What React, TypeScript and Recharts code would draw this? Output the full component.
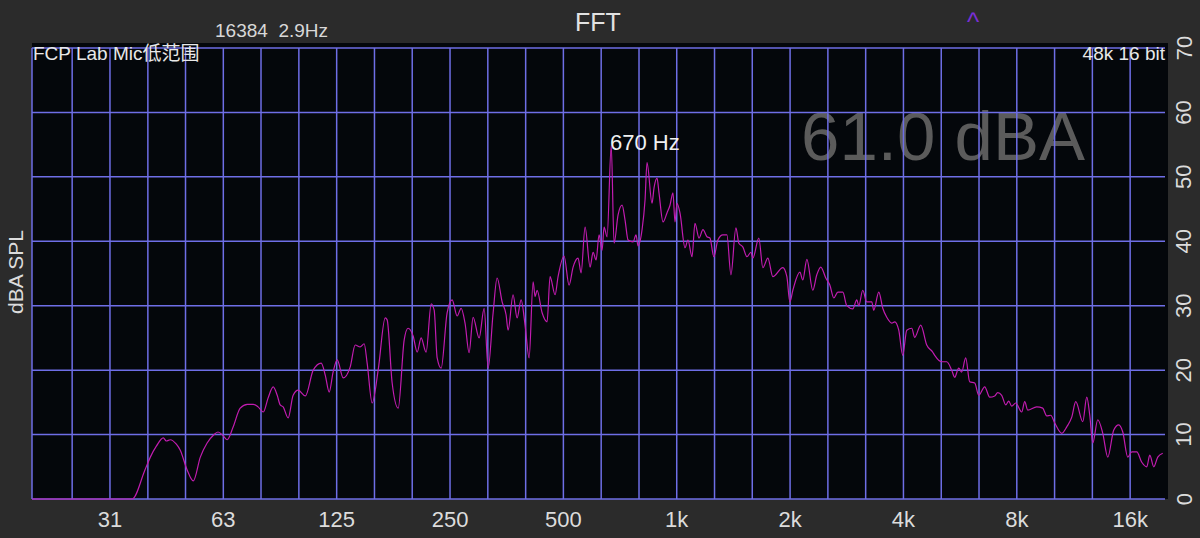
import { LineChart, Line, XAxis, YAxis, CartesianGrid } from 'recharts'

// spectrum readings, Hz
const FREQ_HZ = [
  19.4, 35.8, 38.7, 40.0, 41.5, 43.3, 44.1, 45.2, 46.9, 48.0,
  50.1, 52.0, 54.3, 56.6, 58.8, 60.5, 62.5, 64.0, 66.4, 69.3,
  72.4, 75.0, 77.3, 79.8, 82.2, 84.8, 86.9, 88.5, 90.1, 92.9,
  95.8, 98.8, 103.2, 108.3, 113.7, 116.6, 119.4, 122.3, 125.4, 130.1,
  135.8, 140.0, 144.3, 147.9, 150.6, 155.3, 161.1, 168.2, 170.2, 175.5,
  182.1, 188.9, 193.4, 199.5, 204.5, 209.5, 216.0, 222.8, 226.9, 231.1,
  236.8, 245.6, 253.3, 261.1, 267.6, 274.2, 280.9, 287.9, 298.7, 308.0,
  315.6, 325.4, 333.4, 343.8, 352.2, 356.6, 367.6, 376.8, 386.1, 395.6,
  405.5, 415.5, 420.6, 425.7, 439.0, 452.6, 460.9, 475.3, 484.0, 502.1,
  517.7, 530.6, 547.0, 557.2, 571.0, 588.7, 599.6, 610.7, 622.0, 633.5,
  641.2, 653.2, 670, 681.7, 698.6, 715.9, 729.0, 742.6, 765.6, 779.7,
  789.4, 808.9, 823.8, 833.9, 859.8, 870.4, 886.4, 897.3, 919.5, 942.2,
  959.6, 977.3, 989.4, 1001.5, 1020, 1052, 1071, 1098, 1118, 1146,
  1174, 1203, 1225, 1255, 1286, 1326, 1359, 1393, 1436, 1462,
  1499, 1536, 1574, 1593, 1652, 1693, 1746, 1800, 1913, 1961,
  1997, 2034, 2123, 2162, 2216, 2298, 2355, 2413, 2488, 2550,
  2613, 2678, 2761, 2829, 2935, 3007, 3044, 3119, 3196, 3296,
  3336, 3440, 3525, 3612, 3724, 3793, 3887, 3983, 4082, 4208,
  4286, 4446, 4612, 4784, 4843, 5055, 5212, 5373, 5473, 5608,
  5712, 5853, 5998, 6185, 6338, 6575, 6779, 6989, 7119, 7295,
  7476, 7614, 7755, 7947, 8244, 8397, 8553, 9037, 9374, 9606,
  9845, 10088, 10531, 10859, 11196, 11473, 11975, 12272, 12499, 12731,
  13126, 13534, 13954, 14475, 14925, 15294, 15768, 16160, 16661, 17178,
  17712, 18040, 18485, 18942, 19530,
]

// level at each frequency, dBA SPL
const LEVEL_DBA = [
  0, 0, 4.5, 6.5, 8.2, 9.5, 9.0, 9.2, 8.5, 7.6,
  4.5, 2.8, 6.5, 8.7, 9.9, 10.4, 9.8, 9.2, 11.2, 14.1,
  14.7, 14.7, 14.3, 13.5, 15.7, 17.4, 16.1, 14.6, 14.3, 12.6,
  16.1, 16.9, 16.0, 20.0, 21.1, 19.2, 16.6, 19.7, 21.6, 18.8,
  20.5, 23.9, 23.6, 24.1, 21.1, 14.9, 20.0, 28.1, 27.8, 18.0,
  14.1, 24.7, 26.5, 25.3, 22.8, 25.0, 22.8, 30.3, 29.3, 21.9,
  20.3, 28.9, 30.9, 28.4, 29.6, 27.2, 22.7, 28.2, 25.0, 29.6,
  20.3, 28.9, 34.3, 30.6, 28.6, 26.2, 31.7, 28.1, 30.9, 27.0,
  21.9, 33.7, 31.4, 32.4, 28.9, 27.5, 34.5, 31.7, 34.5, 37.7,
  33.2, 36.0, 37.4, 35.1, 42.2, 36.0, 38.3, 37.1, 41.0, 38.6,
  42.2, 40.7, 54.9, 39.7, 44.1, 45.6, 43.3, 40.2, 39.9, 41.0,
  39.3, 41.8, 46.4, 52.2, 45.9, 48.3, 49.8, 47.5, 43.0, 44.4,
  45.6, 47.5, 43.0, 45.9, 44.4, 39.0, 40.2, 37.6, 42.8, 40.5,
  41.8, 40.7, 40.5, 37.6, 40.2, 41.0, 41.0, 34.8, 42.1, 39.7,
  39.1, 37.6, 38.3, 37.4, 40.5, 35.9, 37.4, 34.5, 35.9, 34.5,
  30.6, 32.4, 35.2, 34.0, 37.2, 32.4, 34.8, 36.0, 34.3, 33.2,
  31.2, 32.1, 32.1, 30.0, 29.5, 30.9, 30.0, 32.4, 30.6, 30.6,
  29.3, 32.1, 29.6, 28.2, 27.3, 27.5, 26.2, 22.3, 26.2, 26.5,
  25.1, 27.0, 23.9, 22.8, 22.3, 21.3, 21.3, 20.0, 18.9, 20.3,
  19.7, 21.9, 18.2, 18.0, 16.1, 17.4, 15.8, 16.0, 16.5, 16.1,
  14.6, 15.2, 14.4, 14.9, 13.5, 15.1, 13.8, 14.3, 14.1, 12.9,
  13.0, 11.8, 10.2, 11.2, 12.7, 15.1, 12.0, 15.8, 13.0, 8.7,
  12.3, 10.2, 6.5, 10.7, 11.5, 10.4, 6.5, 7.3, 7.3, 5.7,
  5.0, 6.8, 5.0, 6.5, 7.1,
]

const FREQ_MIN = 19.4
const FREQ_MAX = 19800

const OCTAVE_TICKS = [31.25, 62.5, 125, 250, 500, 1000, 2000, 4000, 8000, 16000]
const OCTAVE_LABELS = ['31', '63', '125', '250', '500', '1k', '2k', '4k', '8k', '16k']
const THIRD_OCTAVE_LINES = [
  24.8, 39.4, 49.6, 78.7, 99.2, 157.5, 198.4, 315, 397, 630, 794,
  1260, 1587, 2520, 3175, 5040, 6350, 10079, 12699,
]
const LEVEL_TICKS = [0, 10, 20, 30, 40, 50, 60, 70]

const data = FREQ_HZ.map((f, i) => ({ f, db: LEVEL_DBA[i] }))
const gridFreqs = [FREQ_MIN, ...THIRD_OCTAVE_LINES, ...OCTAVE_TICKS].sort((a, b) => a - b)

const FONT = '"Liberation Sans", Arial, Helvetica, "Noto Sans CJK SC", sans-serif'
const GRID = '#6e6ee6'
const TRACE = '#c21cb0'

function FreqTick({ x, y, payload }: any) {
  const i = OCTAVE_TICKS.indexOf(payload.value)
  return (
    <text x={x} y={y + 28} textAnchor='middle' fill='#dcdcdc' fontSize={22} fontFamily={FONT}>
      {i >= 0 ? OCTAVE_LABELS[i] : payload.value}
    </text>
  )
}

function LevelTick({ x, y, payload }: any) {
  const cx = x + 19
  return (
    <text
      x={cx}
      y={y}
      transform={`rotate(-90, ${cx}, ${y})`}
      textAnchor='middle'
      dominantBaseline='central'
      fill='#dcdcdc'
      fontSize={22}
      fontFamily={FONT}
    >
      {payload.value}
    </text>
  )
}

export default function App() {
  return (
    <div style={{ position: 'relative', width: 1200, height: 538, background: '#2b2b2b', overflow: 'hidden' }}>
      <style>{'html, body { margin: 0; padding: 0; background: #2b2b2b; overflow: hidden; }'}</style>
      <svg width={1200} height={538} style={{ position: 'absolute', left: 0, top: 0 }}>
        <rect x={32} y={43} width={1136} height={456} fill='#04070b' />
        <text x={598} y={31} textAnchor='middle' fill='#e2e2e2' fontSize={25} fontFamily={FONT}>
          FFT
        </text>
        <text x={215} y={37} fill='#d8d8d8' fontSize={19} fontFamily={FONT}>
          16384{'\u00A0\u00A0'}2.9Hz
        </text>
        <text x={973} y={31} textAnchor='middle' fill='#7a2fd4' fontSize={26} fontFamily={FONT}>
          ^
        </text>
        <text x={943} y={160} textAnchor='middle' fill='#5b5b5b' fontSize={69} fontFamily={FONT}>
          61.0 dBA
        </text>
        <text
          x={15}
          y={272}
          transform='rotate(-90, 15, 272)'
          textAnchor='middle'
          dominantBaseline='central'
          fill='#dcdcdc'
          fontSize={21}
          fontFamily={FONT}
        >
          dBA SPL
        </text>
      </svg>
      <LineChart
        width={1200}
        height={538}
        data={data}
        margin={{ top: 48, right: 0, bottom: 0, left: 32 }}
        style={{ position: 'absolute', left: 0, top: 0 }}
      >
        <CartesianGrid
          stroke={GRID}
          strokeWidth={1.5}
          verticalValues={gridFreqs}
          horizontalValues={LEVEL_TICKS}
        />
        <XAxis
          dataKey='f'
          type='number'
          scale='log'
          domain={[FREQ_MIN, FREQ_MAX]}
          allowDataOverflow
          ticks={OCTAVE_TICKS}
          interval={0}
          height={39}
          axisLine={false}
          tickLine={false}
          tickSize={0}
          tickMargin={0}
          tick={<FreqTick />}
        />
        <YAxis
          orientation='right'
          type='number'
          domain={[0, 70]}
          ticks={LEVEL_TICKS}
          interval={0}
          width={35}
          axisLine={false}
          tickLine={false}
          tickSize={0}
          tickMargin={0}
          tick={<LevelTick />}
        />
        <Line
          type='monotone'
          dataKey='db'
          stroke={TRACE}
          strokeWidth={1.2}
          dot={false}
          isAnimationActive={false}
        />
      </LineChart>
      <svg width={1200} height={538} style={{ position: 'absolute', left: 0, top: 0, pointerEvents: 'none' }}>
        <text x={33} y={60} fill='#e8e8e8' fontSize={19} fontFamily={FONT}>
          FCP Lab Mic低范围
        </text>
        <text x={1165} y={60} textAnchor='end' fill='#e8e8e8' fontSize={19} fontFamily={FONT}>
          48k 16 bit
        </text>
        <text x={610} y={150} fill='#f0f0f0' fontSize={22} fontFamily={FONT}>
          670 Hz
        </text>
      </svg>
    </div>
  )
}
